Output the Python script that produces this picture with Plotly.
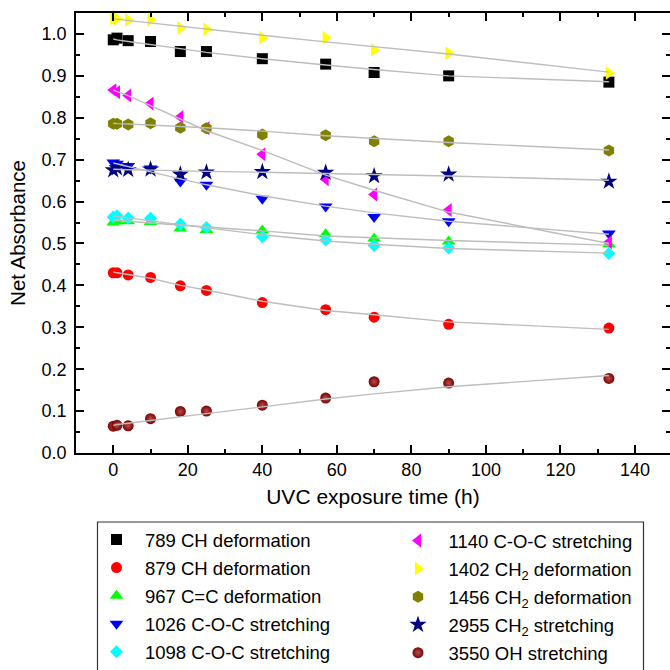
import plotly.graph_objects as go

# ---------------- data ----------------
time_h = [0, 1, 4, 10, 18, 25, 40, 57, 70, 90, 133]

labels = [
    "789 CH deformation",
    "879 CH deformation",
    "967 C=C deformation",
    "1026 C-O-C stretching",
    "1098 C-O-C stretching",
    "1140 C-O-C stretching",
    "1402 CH<sub>2</sub> deformation",
    "1456 CH<sub>2</sub> deformation",
    "2955 CH<sub>2</sub> stretching",
    "3550 OH stretching",
]

a789 = [0.986, 0.990, 0.984, 0.982, 0.958, 0.958, 0.941, 0.928, 0.908, 0.900, 0.885]
a879 = [0.430, 0.430, 0.425, 0.419, 0.399, 0.388, 0.359, 0.342, 0.324, 0.307, 0.298]
a967 = [0.550, 0.553, 0.553, 0.551, 0.536, 0.532, 0.531, 0.522, 0.512, 0.505, 0.498]
a1026 = [0.693, 0.690, 0.685, 0.679, 0.648, 0.640, 0.607, 0.588, 0.563, 0.553, 0.524]
a1098 = [0.563, 0.566, 0.561, 0.560, 0.546, 0.538, 0.516, 0.508, 0.495, 0.489, 0.476]
a1140 = [0.866, 0.861, 0.853, 0.834, 0.802, 0.775, 0.713, 0.653, 0.617, 0.580, 0.503]
a1402 = [1.037, 1.036, 1.033, 1.034, 1.014, 1.011, 0.991, 0.991, 0.962, 0.954, 0.907]
a1456 = [0.786, 0.786, 0.784, 0.787, 0.776, 0.775, 0.760, 0.758, 0.744, 0.744, 0.722]
a2955 = [0.675, 0.680, 0.676, 0.677, 0.665, 0.670, 0.671, 0.669, 0.661, 0.665, 0.648]
a3550 = [0.064, 0.066, 0.065, 0.082, 0.099, 0.100, 0.114, 0.131, 0.170, 0.167, 0.178]

f789 = [0.988, 0.986, 0.982, 0.974, 0.965, 0.956, 0.941, 0.926, 0.915, 0.900, 0.886]
f879 = [0.432, 0.430, 0.426, 0.417, 0.400, 0.389, 0.362, 0.340, 0.330, 0.313, 0.295]
f967 = [0.556, 0.555, 0.553, 0.549, 0.544, 0.540, 0.530, 0.518, 0.514, 0.507, 0.496]
f1026 = [0.692, 0.690, 0.684, 0.671, 0.654, 0.640, 0.614, 0.589, 0.573, 0.553, 0.522]
f1098 = [0.566, 0.565, 0.561, 0.554, 0.545, 0.537, 0.521, 0.506, 0.498, 0.488, 0.477]
f1140 = [0.866, 0.863, 0.853, 0.829, 0.797, 0.769, 0.722, 0.663, 0.627, 0.575, 0.500]
f1402 = [1.036, 1.035, 1.032, 1.027, 1.019, 1.012, 0.997, 0.981, 0.970, 0.952, 0.909]
f1456 = [0.787, 0.786, 0.785, 0.783, 0.779, 0.776, 0.768, 0.757, 0.750, 0.741, 0.723]
f2955 = [0.677, 0.677, 0.676, 0.675, 0.673, 0.672, 0.670, 0.667, 0.664, 0.661, 0.651]
f3550 = [0.066, 0.068, 0.071, 0.078, 0.087, 0.094, 0.110, 0.129, 0.141, 0.158, 0.185]

values = [a789, a879, a967, a1026, a1098, a1140, a1402, a1456, a2955, a3550]
fits = [f789, f879, f967, f1026, f1098, f1140, f1402, f1456, f2955, f3550]

# ---------------- styles ----------------
colors = ["#000000", "#FF0000", "#00FF00", "#0000FF", "#00FFFF",
          "#FF00FF", "#FFFF00", "#808000", "#000080", "#800000"]
symbols = ["square", "circle", "triangle-up", "triangle-down", "diamond",
           "triangle-left", "triangle-right", "hexagon", "star", "circle"]
sizes = [11, 11, 12, 12, 10, 12, 12, 12, 13, 11]
legend_ids = ["legend"] * 5 + ["legend2"] * 5

FONT = "Liberation Sans, Arial, Helvetica, sans-serif"

W, H = 670, 670
ML, MR, MT, MB = 76, 0, 13, 217
PW = W - ML - MR
PH = H - MT - MB


def px_x(p):
    return (p - ML) / PW


def px_y(p):
    return (H - MB - p) / PH


fig = go.Figure()

for i, (lab, vals, col, sym, sz, lg) in enumerate(zip(labels, values, colors, symbols, sizes, legend_ids)):
    marker = dict(color=col, symbol=sym, size=sz, line=dict(width=0))
    if col == "#800000":
        marker["gradient"] = dict(type="radial", color="#b05050")
    fig.add_trace(go.Scatter(
        x=time_h, y=vals, mode="markers", name=lab,
        marker=marker, legend=lg, legendgroup="g%d" % i,
    ))

for fv in fits:
    fig.add_trace(go.Scatter(
        x=time_h, y=fv, mode="lines", showlegend=False,
        line=dict(color="#BDBDBD", width=1.4), hoverinfo="skip",
    ))

axis_common = dict(
    showline=True, linecolor="black", linewidth=1.5, mirror="ticks",
    ticks="inside", ticklen=8, tickwidth=1.5, tickcolor="black",
    showgrid=False, zeroline=False,
    tickfont=dict(family=FONT, size=18, color="black"),
)

fig.update_xaxes(
    range=[-10, 149.4], tick0=0, dtick=20,
    minor=dict(ticks="inside", ticklen=4, tickwidth=1.5, tickcolor="black", dtick=10, tick0=0, showgrid=False),
    title=dict(text="UVC exposure time (h)", font=dict(family=FONT, size=21, color="black"), standoff=10),
    **axis_common,
)
fig.update_yaxes(
    range=[0, 1.05], tick0=0, dtick=0.1, tickformat=".1f",
    minor=dict(ticks="inside", ticklen=4, tickwidth=1.5, tickcolor="black", dtick=0.05, tick0=0, showgrid=False),
    title=dict(text="Net Absorbance", font=dict(family=FONT, size=20.5, color="black"), standoff=10),
    ticklabelstandoff=4,
    **axis_common,
)

legend_font = dict(family=FONT, size=18.5, color="black")
fig.update_layout(
    width=W, height=H,
    margin=dict(l=ML, r=MR, t=MT, b=MB, pad=0, autoexpand=False),
    paper_bgcolor="white", plot_bgcolor="white",
    font=dict(family=FONT, color="black"),
    legend=dict(x=px_x(88), y=px_y(521), xanchor="left", yanchor="top",
                font=legend_font, bgcolor="rgba(0,0,0,0)", borderwidth=0,
                tracegroupgap=1.0, itemwidth=47),
    legend2=dict(x=px_x(387.5), y=px_y(522), xanchor="left", yanchor="top",
                 font=legend_font, bgcolor="rgba(0,0,0,0)", borderwidth=0,
                 tracegroupgap=1.0, itemwidth=51),
    shapes=[dict(type="rect", xref="paper", yref="paper",
                 x0=px_x(97.5), x1=px_x(643.5), y0=px_y(522), y1=px_y(700),
                 line=dict(color="#333333", width=1.2), fillcolor="rgba(0,0,0,0)",
                 layer="above")],
    showlegend=True,
)

fig.write_html("out.html")
